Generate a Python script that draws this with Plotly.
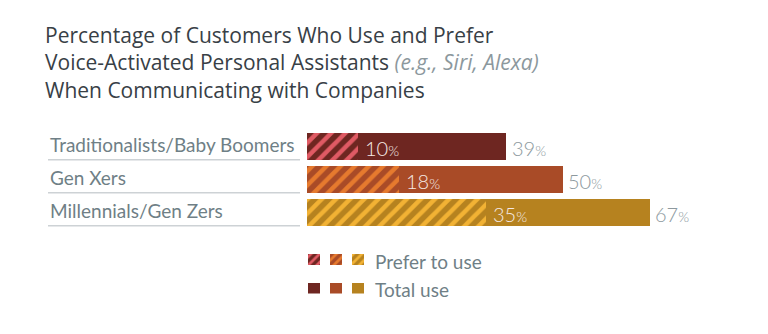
import plotly.graph_objects as go

# Survey data
generations = ["Traditionalists/Baby Boomers", "Gen Xers", "Millennials/Gen Zers"]
total_use = [39, 50, 67]
prefer_to_use = [10, 18, 35]

# Colours per generation
solid_colors = ["#6E2621", "#A94B27", "#B6821F"]
stripe_colors = ["#E05A64", "#E67A2E", "#F2B234"]

legend_labels = ["Prefer to use", "Total use"]
title_lines = [
    "Percentage of Customers Who Use and Prefer",
    "Voice-Activated Personal Assistants <i><span style='color:#8C989D'>(e.g., Siri, Alexa)</span></i>",
    "When Communicating with Companies",
]

W, H = 768, 334
FONT = "Lato"
TITLE_FONT = "Open Sans"
LABEL_GRAY = "#6F7F86"
VALUE_GRAY = "#8D999E"
LIGHT = 300


def stripes(fg, bg, size):
    return dict(shape="/", fgcolor=fg, bgcolor=bg, size=size,
                solidity=0.45, fillmode="replace")


fig = go.Figure()

for g, t, p, sc, st in zip(generations, total_use, prefer_to_use,
                           solid_colors, stripe_colors):
    # Total use: solid bar
    fig.add_trace(go.Bar(
        y=[g], x=[t], orientation="h", width=0.82,
        marker=dict(color=sc, line=dict(width=0)),
        hoverinfo="skip", showlegend=False,
    ))
    # Prefer to use: striped bar over the total bar
    fig.add_trace(go.Bar(
        y=[g], x=[p], orientation="h", width=0.82,
        marker=dict(color=sc, line=dict(width=0), pattern=stripes(st, sc, 10)),
        hoverinfo="skip", showlegend=False,
    ))

# Legend swatches on their own small axis pair
legend_slots = ["a", "b", "c"]
for slot, sc, st in zip(legend_slots, solid_colors, stripe_colors):
    fig.add_trace(go.Bar(
        x=[slot], y=[11.5], base=[29], xaxis="x2", yaxis="y2", width=0.52,
        marker=dict(color=sc, line=dict(width=0), pattern=stripes(st, sc, 6)),
        hoverinfo="skip", showlegend=False,
    ))
    fig.add_trace(go.Bar(
        x=[slot], y=[11.5], base=[0], xaxis="x2", yaxis="y2", width=0.52,
        marker=dict(color=sc, line=dict(width=0)),
        hoverinfo="skip", showlegend=False,
    ))

annotations = []


def pct(v, size_num, size_pct):
    return (f"<span style='font-size:{size_num}px'>{v}</span>"
            f"<span style='font-size:{size_pct}px'>%</span>")


for g, t, p in zip(generations, total_use, prefer_to_use):
    annotations.append(dict(
        x=t, y=g, xref="x", yref="y", xanchor="left", yanchor="middle",
        xshift=4, yshift=-2, showarrow=False,
        text=pct(t, 20, 14),
        font=dict(family=FONT, size=20, color=VALUE_GRAY, weight=LIGHT),
    ))
    annotations.append(dict(
        x=p, y=g, xref="x", yref="y", xanchor="left", yanchor="middle",
        xshift=5, yshift=-2, showarrow=False,
        text=pct(p, 20, 14),
        font=dict(family=FONT, size=20, color="#F5E9E4", weight=LIGHT),
    ))
    annotations.append(dict(
        x=48 / W, y=g, xref="paper", yref="y", xanchor="left", yanchor="middle",
        yshift=2, showarrow=False,
        text=g, font=dict(family=FONT, size=19, color=LABEL_GRAY),
    ))

# Three-line title
annotations.append(dict(
    x=43 / W, y=1 - 62.5 / H, xref="paper", yref="paper",
    xanchor="left", yanchor="middle", align="left", showarrow=False,
    text="<br>".join(title_lines),
    font=dict(family=TITLE_FONT, size=21, color="#384046"),
))

# Legend labels
for lbl, yc in zip(legend_labels, [261, 289]):
    annotations.append(dict(
        x=373 / W, y=1 - yc / H, xref="paper", yref="paper",
        xanchor="left", yanchor="middle", showarrow=False,
        text=lbl, font=dict(family=FONT, size=19, color=LABEL_GRAY),
    ))

# Row separator lines under the category labels
shapes = []
for i in range(len(generations)):
    shapes.append(dict(
        type="line", xref="paper", yref="y",
        x0=48 / W, x1=300 / W, y0=i + 0.42, y1=i + 0.42,
        line=dict(color="#CDD2D5", width=1.5),
    ))

x0_px, px_per_unit = 306.5, 5.115
fig.update_layout(
    width=W, height=H,
    margin=dict(l=0, r=0, t=0, b=0),
    paper_bgcolor="white", plot_bgcolor="white",
    barmode="overlay", bargap=0,
    xaxis=dict(domain=[x0_px / W, 1], range=[0, (W - x0_px) / px_per_unit],
               visible=False, fixedrange=True),
    yaxis=dict(domain=[1 - 228.5 / H, 1 - 129.5 / H], type="category",
               categoryorder="array", categoryarray=generations,
               range=[2.5, -0.5], visible=False, fixedrange=True),
    xaxis2=dict(domain=[303 / W, 369 / W], range=[-0.5, 2.5], type="category",
                anchor="y2", visible=False, fixedrange=True),
    yaxis2=dict(domain=[1 - 293.5 / H, 1 - 253.5 / H], range=[0, 40],
                anchor="x2", visible=False, fixedrange=True),
    annotations=annotations,
    shapes=shapes,
    showlegend=False,
)

fig.write_html("out.html")
